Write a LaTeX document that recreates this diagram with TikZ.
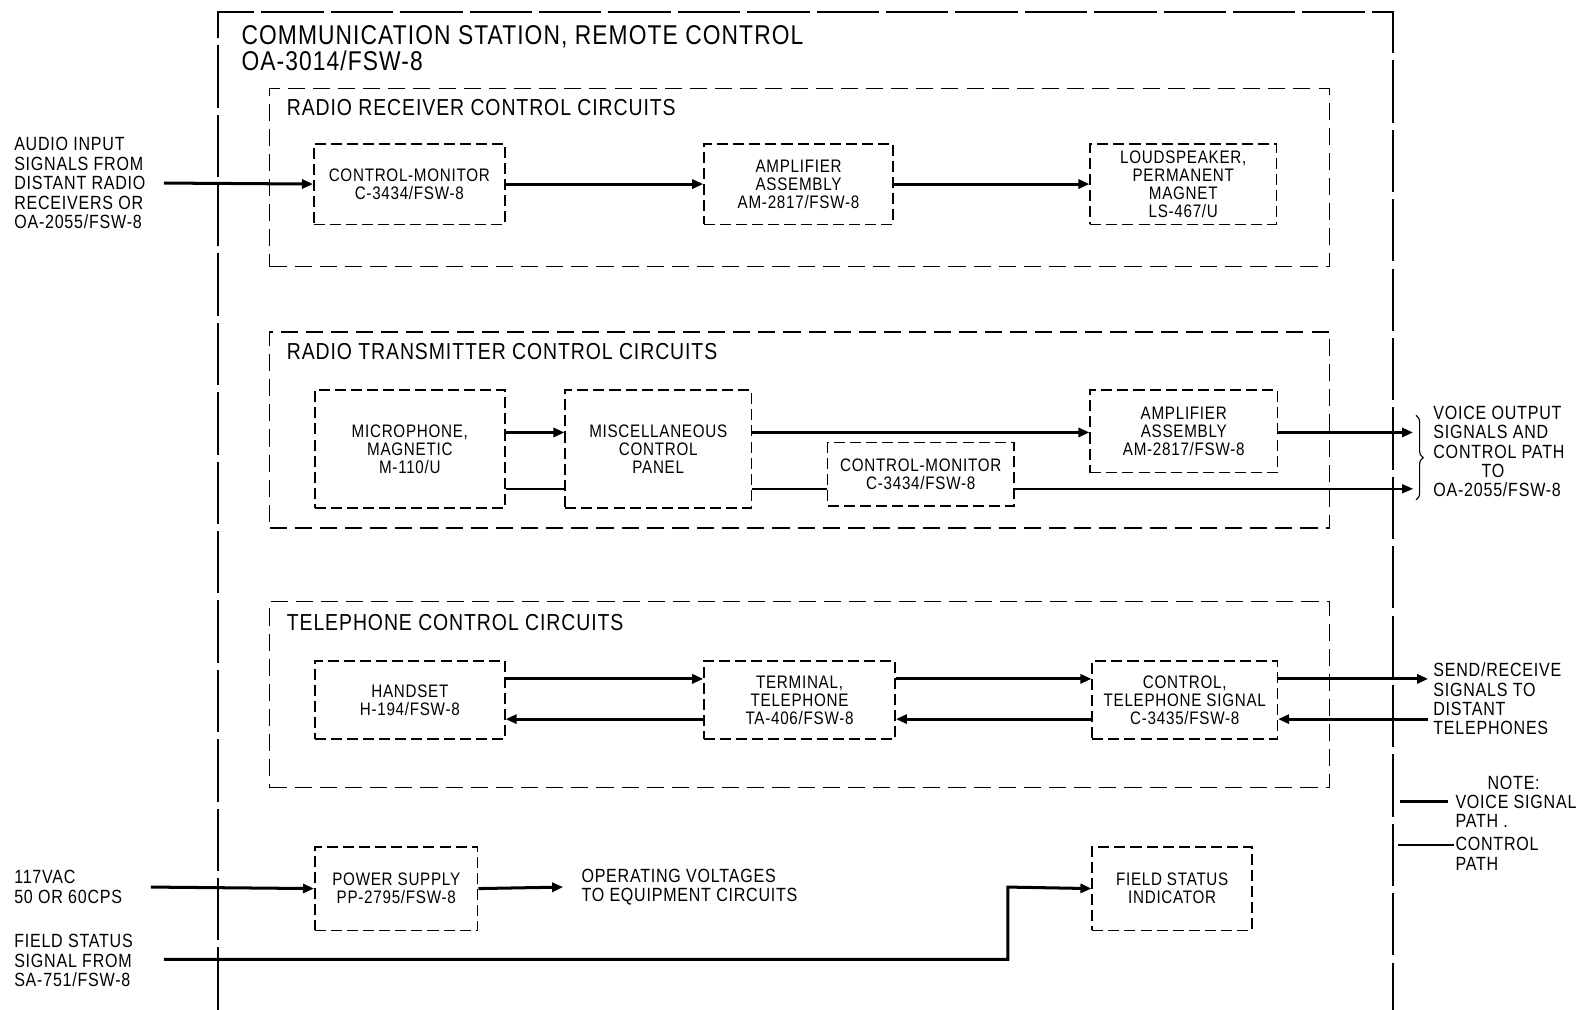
\documentclass[tikz,border=0pt]{standalone}
\usepackage{fontspec}
\setmainfont[FakeStretch=0.84,LetterSpace=4]{Liberation Sans}
\usetikzlibrary{arrows.meta,decorations.pathreplacing}
\begin{document}
\begin{tikzpicture}[x=1pt,y=-1pt,
 blk/.style={draw, line width=1.5pt, dash pattern=on 11pt off 5pt, inner sep=0pt, align=center, font=\fontsize{18}{18}\selectfont},
 secbox/.style={draw, line width=1.5pt, dash pattern=on 17pt off 8pt, inner sep=0pt},
 sectitle/.style={anchor=west, inner sep=0pt, font=\fontsize{23}{26}\selectfont},
 side/.style={anchor=west, inner sep=0pt, align=left, font=\fontsize{19}{19.3}\selectfont},
 voice/.style={line width=3pt},
 ctrl/.style={line width=1.5pt},
 arr/.style={-{Triangle[length=11pt,width=9pt]}},
]
\fill[white] (0,0) rectangle (1568,1004);
\useasboundingbox (0,0) rectangle (1568,1004);

% outer box
\draw[line width=1.6pt, dash pattern=on 62pt off 7pt] (217,1004) -- (217,12) -- (1385,12) -- (1385,1004);
\node[anchor=north west, inner sep=0pt, align=left, font=\fontsize{27}{26}\selectfont] (title) at (240,25)
 {COMMUNICATION STATION, REMOTE CONTROL\\OA-3014/FSW-8};

% sections
\node[secbox, minimum width=1054pt, minimum height=177pt] (secr) at (795,176.5) {};
\node[sectitle] (secrl) at (285,107) {RADIO RECEIVER CONTROL CIRCUITS};
\node[secbox, minimum width=1054pt, minimum height=195pt] (sect) at (795,427.5) {};
\node[sectitle] (sectl) at (285,350) {RADIO TRANSMITTER CONTROL CIRCUITS};
\node[secbox, minimum width=1054pt, minimum height=185pt] (secp) at (795,690.5) {};
\node[sectitle] (secpl) at (285,619) {TELEPHONE CONTROL CIRCUITS};

% receiver blocks
\node[blk, minimum width=190pt, minimum height=80pt] (rcm) at (407,183) {CONTROL-MONITOR\\C-3434/FSW-8};
\node[blk, minimum width=188pt, minimum height=80pt] (ramp) at (794,183) {AMPLIFIER\\ASSEMBLY\\AM-2817/FSW-8};
\node[blk, minimum width=185pt, minimum height=80pt] (rls) at (1176.5,183) {LOUDSPEAKER,\\PERMANENT\\MAGNET\\LS-467/U};

% transmitter blocks
\node[blk, minimum width=189pt, minimum height=117pt] (tmic) at (407.5,446.5) {MICROPHONE,\\MAGNETIC\\M-110/U};
\node[blk, minimum width=185pt, minimum height=117pt] (tmisc) at (654.5,446.5) {MISCELLANEOUS\\CONTROL\\PANEL};
\node[blk, minimum width=185pt, minimum height=63pt] (tcm) at (915.5,471.5) {CONTROL-MONITOR\\C-3434/FSW-8};
\node[blk, minimum width=186pt, minimum height=82pt] (tamp) at (1177,429) {AMPLIFIER\\ASSEMBLY\\AM-2817/FSW-8};

% telephone blocks
\node[blk, minimum width=189pt, minimum height=78pt] (hs) at (407.5,696) {HANDSET\\H-194/FSW-8};
\node[blk, minimum width=190pt, minimum height=78pt] (term) at (795,696) {TERMINAL,\\TELEPHONE\\TA-406/FSW-8};
\node[blk, minimum width=184pt, minimum height=78pt] (ctl) at (1178,696) {CONTROL,\\TELEPHONE SIGNAL\\C-3435/FSW-8};

% bottom blocks
\node[blk, minimum width=162pt, minimum height=83pt] (ps) at (394,883.5) {POWER SUPPLY\\PP-2795/FSW-8};
\node[blk, minimum width=159pt, minimum height=83pt] (fsi) at (1165.5,883.5) {FIELD STATUS\\INDICATOR};

% side texts
\node[side] (audin) at (14,182) {AUDIO INPUT\\SIGNALS FROM\\DISTANT RADIO\\RECEIVERS OR\\OA-2055/FSW-8};
\node[side] (vout) at (1425,449) {VOICE OUTPUT\\SIGNALS AND\\CONTROL PATH\\\hspace*{48pt}TO\\OA-2055/FSW-8};
\node[side] (sendrx) at (1425,695) {SEND/RECEIVE\\SIGNALS TO\\DISTANT\\TELEPHONES};
\node[side] (vac) at (14,882) {117VAC\\50 OR 60CPS};
\node[side] (opv) at (578,882) {OPERATING VOLTAGES\\TO EQUIPMENT CIRCUITS};
\node[side] (fss) at (14,955) {FIELD STATUS\\SIGNAL FROM\\SA-751/FSW-8};
\node[side, anchor=center] (note) at (1505,778) {NOTE:};
\node[side] (notev) at (1447,806.5) {VOICE SIGNAL\\PATH .};
\node[side] (notec) at (1447,849) {CONTROL\\PATH};

% coordinates
\coordinate (in1) at (163,182);
\coordinate (v1) at (0,430);
\coordinate (c1) at (0,486);
\coordinate (out1) at (1405,430);
\coordinate (out2) at (1405,486);
\coordinate (t1) at (0,675);
\coordinate (t2) at (0,715);
\coordinate (tout) at (1420,675);
\coordinate (tin) at (1420,715);
\coordinate (acin) at (150,882);
\coordinate (opend) at (560,882);
\coordinate (fsin) at (163,954);
\coordinate (fsbend) at (1002,954);
\coordinate (fsup) at (1002,882);
\coordinate (brtop) at (1408,413);
\coordinate (brbot) at (1408,497);
\coordinate (lva) at (1392,797);
\coordinate (lvb) at (1440,797);
\coordinate (lca) at (1390,840);
\coordinate (lcb) at (1446,840);

% receiver connectors
\draw[voice,arr] (in1) -- (rcm.west);
\draw[voice,arr] (rcm.east) -- (ramp.west);
\draw[voice,arr] (ramp.east) -- (rls.west);

% transmitter connectors
\draw[voice,arr] (tmic.east |- v1) -- (tmisc.west |- v1);
\draw[voice,arr] (tmisc.east |- v1) -- (tamp.west |- v1);
\draw[voice,arr] (tamp.east |- v1) -- (out1);
\draw[ctrl] (tmic.east |- c1) -- (tmisc.west |- c1);
\draw[ctrl] (tmisc.east |- c1) -- (tcm.west |- c1);
\draw[ctrl,arr] (tcm.east |- c1) -- (out2);
\draw[line width=1.1pt, decorate, decoration={brace, amplitude=7pt}] (brtop) -- (brbot);

% telephone connectors
\draw[voice,arr] (hs.east |- t1) -- (term.west |- t1);
\draw[voice,arr] (term.east |- t1) -- (ctl.west |- t1);
\draw[voice,arr] (ctl.east |- t1) -- (tout);
\draw[voice,arr] (tin) -- (ctl.east |- t2);
\draw[voice,arr] (ctl.west |- t2) -- (term.east |- t2);
\draw[voice,arr] (term.west |- t2) -- (hs.east |- t2);

% bottom connectors
\draw[voice,arr] (acin) -- (ps.west);
\draw[voice,arr] (ps.east) -- (opend);
\draw[voice,arr] (fsin) -- (fsbend) -- (fsup) -- (fsi.west);

% legend
\draw[voice] (lva) -- (lvb);
\draw[ctrl] (lca) -- (lcb);
\end{tikzpicture}
\end{document}
